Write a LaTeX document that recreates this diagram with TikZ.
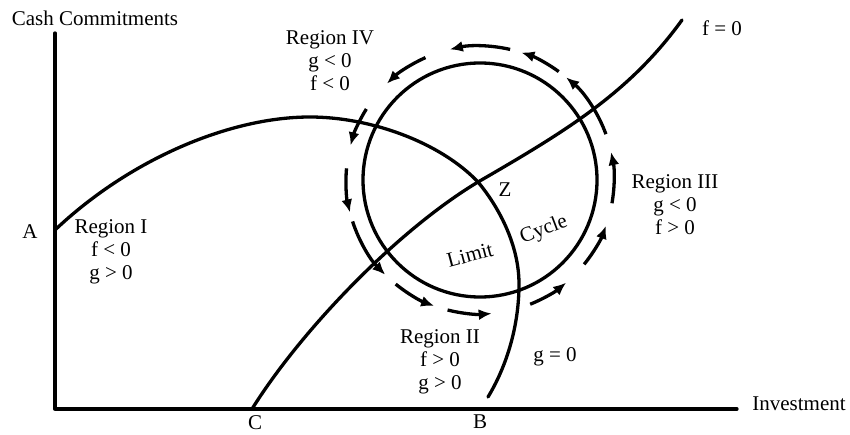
\documentclass[tikz,border=0pt]{standalone}
\usepackage{fontspec}
\setmainfont{Liberation Serif}
\usetikzlibrary{arrows.meta}
\begin{document}
\begin{tikzpicture}[x=0.5pt,y=0.5pt,
  curve/.style={line width=1.65pt, line cap=round, line join=round},
  flow/.style={line width=1.65pt, -{Latex[length=6.5pt,width=5.5pt]}},
  lbl/.style={font=\fontsize{10.5}{11.5}\selectfont, inner sep=0pt, align=center}]
\useasboundingbox (0,0) rectangle (850,434);
% axes
\coordinate (O) at (55,25);
\coordinate (Ytop) at (55,401);
\coordinate (Xend) at (737,25);
\draw[curve] (Ytop) -- (O) -- (Xend);
% key points
\coordinate (Apt) at (55,204);
\coordinate (Peak) at (310,317);
\coordinate (Cpt) at (252,25);
\coordinate (Zpt) at (478,252);
\coordinate (Gr) at (519,150);
\coordinate (Bend) at (488,37);
\coordinate (Fend) at (682,414);
\coordinate (Zc) at (480,254);
% g = 0 curve
\draw[curve] (Apt) .. controls (130,275) and (230,317) .. (Peak)
  .. controls (370,317) and (440,292) .. (Zpt)
  .. controls (498,228) and (519,190) .. (Gr)
  .. controls (519,105) and (505,65) .. (Bend);
% f = 0 curve
\draw[curve] (Cpt) .. controls (302,105) and (398,204) .. (Zpt)
  .. controls (568,304) and (630,342) .. (Fend);
% limit cycle
\draw[curve] (Zc) circle[radius=58.5pt];
% flow arrows
\foreach \a/\b in {20/50, 54/72, 77/103, 114/134, 148/165, 175/194, 198/225,
                   231/250, 256/275, 292/310, 321/340, 350/372}
  \draw[flow] ([shift={(Zc)}]\a:67pt) arc[start angle=\a, end angle=\b, radius=67pt];
% labels
\node[lbl] (cash) at (95,416) {Cash Commitments};
\node[lbl, anchor=west] (inv) at (752,30) {Investment};
\node[lbl] (A) at (30,202) {A};
\node[lbl] (C) at (255,11) {C};
\node[lbl] (B) at (480,12) {B};
\node[lbl] (Z) at (505,244) {Z};
\node[lbl] (f0) at (722,406) {f = 0};
\node[lbl] (g0) at (555,77) {g = 0};
\node[lbl] (r1) at (111,182) {Region I\\f < 0\\g > 0};
\node[lbl] (r2) at (440,72) {Region II\\f > 0\\g > 0};
\node[lbl] (r3) at (675,229) {Region III\\g < 0\\f > 0};
\node[lbl] (r4) at (330,373) {Region IV\\g < 0\\f < 0};
\node[lbl, rotate=15] (lim) at (470,179) {Limit};
\node[lbl, rotate=21] (cyc) at (544,204) {Cycle};
\end{tikzpicture}
\end{document}
